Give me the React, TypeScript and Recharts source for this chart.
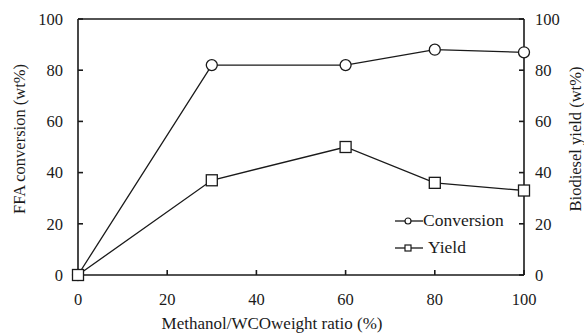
import React from 'react';
import {
    LineChart,
    Line,
    XAxis,
    YAxis,
    ReferenceLine
} from 'recharts';

const ratios = [0, 30, 60, 80, 100];
const conversion = [0, 82, 82, 88, 87];
const yieldValues = [0, 37, 50, 36, 33];
const xTicks = [0, 20, 40, 60, 80, 100];
const yTicks = [0, 20, 40, 60, 80, 100];

const chartData = ratios.map((r, i) => ({
    ratio: r,
    conversion: conversion[i],
    yield: yieldValues[i]
}));

const ink = '#1a1a1a';
const font = '"Liberation Serif", "Times New Roman", serif';

const SerifTick = (props: any) => {
    const { x, y, payload, textAnchor, verticalAnchor } = props;
    const dy = verticalAnchor === 'start' ? '0.71em' : '0.355em';
    return (
        <text
            x={x}
            y={y}
            dy={dy}
            textAnchor={textAnchor}
            fill={ink}
            style={{ fontFamily: font, fontSize: 16.5 }}
        >
            {payload.value}
        </text>
    );
};

const CircleDot = (props: any) => {
    const { cx, cy } = props;
    if (cx == null || cy == null) return null;
    return <circle cx={cx} cy={cy} r={5.5} fill="#fff" stroke={ink} strokeWidth={1.3} />;
};

const SquareDot = (props: any) => {
    const { cx, cy } = props;
    if (cx == null || cy == null) return null;
    return <rect x={cx - 5.5} y={cy - 5.5} width={11} height={11} fill="#fff" stroke={ink} strokeWidth={1.3} />;
};

const LegendBox = () => (
    <div style={{ position: 'absolute', left: 395, top: 207, fontFamily: font, fontSize: 17.5, color: ink, lineHeight: '27px' }}>
        <div style={{ display: 'flex', alignItems: 'center' }}>
            <svg width={28} height={12}>
                <line x1={0} y1={6} x2={28} y2={6} stroke={ink} strokeWidth={1.3} />
                <circle cx={13} cy={6} r={3} fill="#fff" stroke={ink} strokeWidth={1.2} />
            </svg>
            <span>Conversion</span>
        </div>
        <div style={{ display: 'flex', alignItems: 'center' }}>
            <svg width={28} height={12}>
                <line x1={0} y1={6} x2={28} y2={6} stroke={ink} strokeWidth={1.3} />
                <rect x={10} y={3} width={6} height={6} fill="#fff" stroke={ink} strokeWidth={1.2} />
            </svg>
            <span style={{ marginLeft: 5 }}>Yield</span>
        </div>
    </div>
);

const App = () => {
    return (
        <div style={{ position: 'absolute', left: 0, top: 0, width: 584, height: 335, fontFamily: font }}>
            <LineChart
                width={584}
                height={335}
                data={chartData}
                margin={{ top: 19, right: 0, left: 0, bottom: 0 }}
                style={{ fontFamily: font }}
            >
                <XAxis
                    dataKey="ratio"
                    type="number"
                    domain={[0, 100]}
                    ticks={xTicks}
                    height={60}
                    stroke={ink}
                    strokeWidth={1.6}
                    tickSize={-5}
                    tickMargin={23}
                    tick={<SerifTick />}
                    label={{
                        content: () => (
                            <text x={272} y={329} textAnchor="middle" fontFamily={font} fontSize={17} fill={ink}>
                                Methanol/WCOweight ratio (%)
                            </text>
                        )
                    }}
                />
                <YAxis
                    yAxisId="left"
                    domain={[0, 100]}
                    ticks={yTicks}
                    width={78}
                    stroke={ink}
                    strokeWidth={1.6}
                    tickSize={-5}
                    tickMargin={20}
                    tick={<SerifTick />}
                    label={{
                        content: () => (
                            <text x={19} y={139} dy="0.35em" textAnchor="middle" transform="rotate(-90, 19, 139)" fontFamily={font} fontSize={16.5} fill={ink}>
                                FFA conversion (wt%)
                            </text>
                        )
                    }}
                />
                <YAxis
                    yAxisId="right"
                    orientation="right"
                    domain={[0, 100]}
                    ticks={yTicks}
                    width={60}
                    stroke={ink}
                    strokeWidth={1.6}
                    tickSize={-5}
                    tickMargin={16}
                    tick={<SerifTick />}
                    label={{
                        content: () => (
                            <text x={575} y={139} dy="0.35em" textAnchor="middle" transform="rotate(-90, 575, 139)" fontFamily={font} fontSize={16.5} fill={ink}>
                                Biodiesel yield (wt%)
                            </text>
                        )
                    }}
                />
                <ReferenceLine yAxisId="left" y={100} stroke={ink} strokeWidth={1.6} />
                <Line
                    yAxisId="left"
                    dataKey="conversion"
                    stroke={ink}
                    strokeWidth={1.3}
                    dot={<CircleDot />}
                    activeDot={false}
                    isAnimationActive={false}
                />
                <Line
                    yAxisId="right"
                    dataKey="yield"
                    stroke={ink}
                    strokeWidth={1.3}
                    dot={<SquareDot />}
                    activeDot={false}
                    isAnimationActive={false}
                />
            </LineChart>
            <LegendBox />
        </div>
    );
};

export default App;
